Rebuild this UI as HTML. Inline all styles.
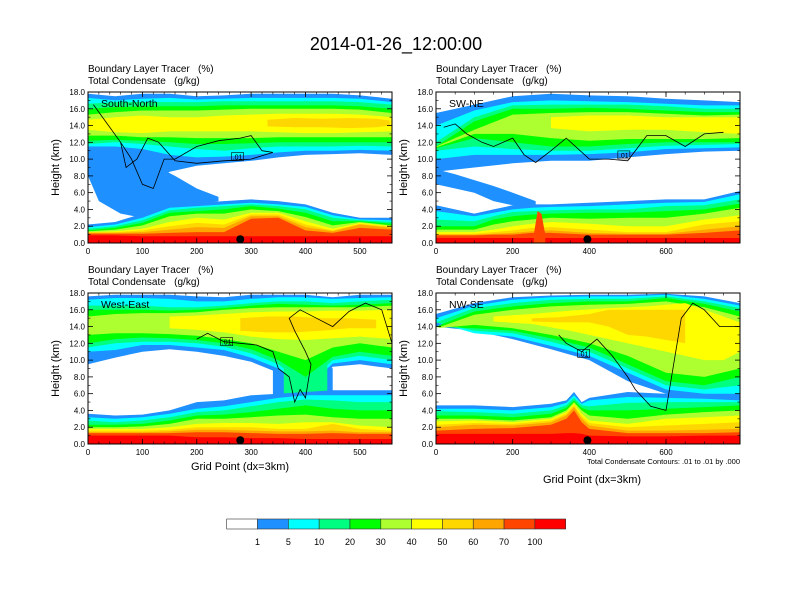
<!DOCTYPE html>
<html><head><meta charset="utf-8">
<style>
html,body{margin:0;padding:0;background:#fff;}
svg{display:block;font-family:"Liberation Sans",Arial,sans-serif;}
svg text{white-space:pre;}
</style></head>
<body>
<svg id="chart" width="792" height="612" viewBox="0 0 792 612" xmlns="http://www.w3.org/2000/svg">
<rect width="792" height="612" fill="#fff"/>
<text x="396" y="50" font-size="18" text-anchor="middle">2014-01-26_12:00:00</text>
<g id="panels"></g>
<g id="colorbar"></g>
</svg>
<script>
const NS="http://www.w3.org/2000/svg";
const colors=["#ffffff","#1e90ff","#00ffff","#00ff80","#00ff00","#adff2f","#ffff00","#ffd700","#ffa500","#ff4500","#ff0000"];
const cbLabels=["1","5","10","20","30","40","50","60","70","100"];

// ---- Panel TL: South-North ----
const snX=[0,50,100,150,200,250,300,350,400,450,500,559];
const snUpTop1=[17.8,17.5,17.8,17.8,17.5,17.6,17.8,17.8,17.8,17.8,17.6,17.2];
const snUpBot1=[8.5,8.0,6.5,8.5,9.2,9.5,9.8,10.2,10.5,10.6,10.7,10.5];
const snUpTop2=[17.3,17.0,17.2,17.3,17.1,17.2,17.3,17.3,17.3,17.3,17.2,16.8];
const snUpBot2=[11.5,11.5,11.2,10.5,10.2,10.3,10.5,10.8,11.0,11.0,11.1,11.0];
const snUpTop3=[16.6,16.8,16.8,16.8,16.8,16.9,16.9,16.9,16.9,16.9,16.8,16.5];
const snUpBot3=[11.8,12.0,11.8,11.5,11.2,11.0,11.3,11.5,11.5,11.5,11.6,11.5];
const snUpTop4=[16.0,16.2,16.3,16.3,16.3,16.4,16.4,16.4,16.4,16.4,16.3,16.0];
const snUpBot4=[12.2,12.3,12.2,12.0,11.8,11.8,11.9,12.0,12.0,12.0,12.0,12.0];
const snUpTop5=[15.3,15.6,15.8,15.8,15.8,15.9,16.0,16.0,16.0,16.0,15.9,15.5];
const snUpBot5=[12.8,12.8,12.6,12.6,12.5,12.5,12.5,12.6,12.6,12.6,12.6,12.6];
const snUpTop6=[14.7,15.0,15.2,15.0,15.0,15.2,15.3,15.4,15.4,15.4,15.3,15.0];
const snUpBot6=[13.5,13.2,13.1,13.3,13.3,13.3,13.3,13.2,13.1,13.1,13.2,13.3];
const snCoreX=[330,380,430,480,530,555];
const snCoreTop=[14.7,14.9,14.8,14.9,14.8,14.6];
const snCoreBot=[13.9,13.8,13.8,13.7,13.8,14.0];
const snWedgeX=[0,20,60,100,130,160,200,240];
const snWedgeTop=[10,10,10,10,9,8,6.5,5.5];
const snWedgeBot=[8,5,3.5,3,3.5,4,4.5,5];
const snLow=[
 [2.2,2.5,3.5,4.6,4.8,5.0,5.2,5.0,4.6,3.6,3.0,3.0],
 [1.9,2.2,3.0,4.2,4.4,4.6,4.8,4.6,4.3,3.3,2.8,2.7],
 [1.7,2.0,2.7,3.9,4.2,4.4,4.6,4.4,4.0,3.0,2.7,2.5],
 [1.5,1.8,2.4,3.6,3.8,4.0,4.4,4.1,3.6,2.6,2.6,2.3],
 [1.4,1.6,2.1,3.2,3.5,3.5,4.0,3.8,3.1,2.1,2.5,2.1],
 [1.3,1.4,1.7,2.5,3.0,2.8,3.6,3.6,2.6,1.7,2.4,2.0],
 [1.3,1.3,1.5,2.0,2.4,2.2,3.4,3.4,2.2,1.5,2.3,1.9],
 [1.2,1.2,1.3,1.6,1.9,1.8,3.2,3.2,1.9,1.4,2.2,1.8],
 [1.1,1.1,1.1,1.2,1.3,1.3,2.9,3.0,1.5,1.2,1.8,1.6],
 [0.9,0.9,0.8,0.8,0.8,0.8,0.8,0.8,0.8,0.8,0.8,0.8]];
const snContX=[10,60,80,100,120,140,160,200,240,280,300,320,340,300,250,200,160,130,110,90,70,60];
const snContY=[16.5,12,10,7,6.5,10,10,11.5,12.2,12.5,12.8,11,10.8,10,9.8,9.5,9.8,12,12.5,10,9,12];

// ---- Panel TR: SW-NE ----
const swX=[0,100,200,300,400,500,600,700,793];
const swUpTop1=[15.5,16.5,17.5,17.8,17.6,17.5,17.2,17.0,16.8];
const swUpBot1=[8.5,9.0,9.5,9.8,9.8,10.2,10.6,10.9,11.0];
const swUpTop2=[14,15.8,16.8,17.0,16.9,16.8,16.6,16.4,16.4];
const swUpBot2=[10,10.5,10.5,10.5,10.6,10.8,11.2,11.3,11.4];
const swUpTop3=[12,15.0,16.4,16.5,16.5,16.5,16.3,16.0,16.0];
const swUpBot3=[11,11.5,11.2,11.0,11.0,11.3,11.6,11.7,11.8];
const swUpTop4=[11.5,14.5,16.0,16.0,16.1,16.0,15.8,15.6,15.6];
const swUpBot4=[11.3,12.5,12.0,11.5,11.5,11.8,12.0,12.0,12.0];
const swUpTop5=[11.5,13.5,15.3,15.5,15.6,15.6,15.4,15.2,15.3];
const swUpBot5=[11.4,13.0,13.0,12.5,12.2,12.4,12.4,12.4,12.5];
const swCoreX=[300,400,500,600,700,793];
const swCoreTop=[15.0,15.2,15.2,15.0,15.0,15.0];
const swCoreBot=[13.7,13.3,13.5,13.5,13.2,13.0];
const swStripX=[0,50,100,150,200,260];
const swStripTop=[8.8,8.2,7.5,6.8,6.0,5.0];
const swStripBot=[7.0,6.5,6.0,5.0,4.5,4.2];
const swLowX=[0,100,150,200,250,300,400,500,600,700,793];
const swLow=[
 [4.5,3.5,4.0,4.5,4.6,4.6,4.8,5.0,5.2,5.2,6.2],
 [3.8,3.2,3.6,4.0,4.2,4.3,4.4,4.6,4.8,4.9,5.8],
 [2.8,2.6,3.2,3.7,3.8,3.9,4.0,4.0,4.4,4.5,5.2],
 [2.0,2.0,2.8,3.2,3.4,3.5,3.6,3.6,3.8,4.0,4.7],
 [1.6,1.6,2.2,2.6,2.8,3.0,2.9,3.0,3.0,3.5,4.2],
 [1.3,1.3,1.6,2.0,2.3,2.5,2.3,2.0,2.0,2.8,3.3],
 [1.1,1.1,1.3,1.5,1.8,1.9,1.6,1.3,1.3,2.2,2.6],
 [1.0,1.0,1.1,1.2,1.4,1.5,1.2,1.1,1.1,1.6,2.0],
 [0.9,0.9,1.0,1.0,1.2,1.2,1.0,1.0,1.0,1.2,1.5],
 [0.6,0.6,0.6,0.6,0.6,0.6,0.6,0.6,0.6,0.6,0.6]];
const swSpikeX=[255,265,275,285];
const swSpikeTop=[1,3.8,3.5,1];
const swContX=[20,50,80,120,150,200,230,260,300,340,400,450,500,550,600,650,700,750];
const swContY=[13.8,14.2,13,12,11.5,12.5,10.5,9.6,11,12.5,10,10,9.8,12.8,12.8,11.5,13,13.2];

// ---- Panel BL: West-East ----
const weX=[0,50,100,150,200,250,300,350,400,450,500,559];
const weUpTop1=[17.6,17.8,17.8,17.8,17.6,17.5,17.8,17.8,17.8,17.5,17.8,17.8];
const weUpBot1=[9.5,10.3,11.0,11.3,11.0,10.5,9.8,8.5,6.0,9.2,9.5,9.0];
const weUpTop2=[17.2,17.4,17.4,17.3,17.0,17.0,17.3,17.5,17.5,17.3,17.4,17.5];
const weUpBot2=[11,11.2,11.8,11.8,11.5,11.2,10.3,9.0,6.5,9.6,10,9.5];
const weUpTop3=[16.5,16.5,16.5,16.3,16.3,16.5,16.8,17.0,17.0,16.8,17.0,17.2];
const weUpBot3=[11.5,12,12.2,12.2,12,11.6,10.8,9.5,7,10,10.5,10];
const weUpTop4=[16,16,16,15.9,16,16.2,16.5,16.7,16.6,16.5,16.6,16.8];
const weUpBot4=[12,12.5,12.7,12.6,12.4,12,11.3,10,8,10.4,11,10.5];
const weUpTop5=[15.2,15.5,15.6,15.6,15.7,16,16.2,16.3,16.3,16.3,16.3,16.5];
const weUpBot5=[13,13.2,13.2,13.1,12.9,12.5,12,11,10,11.5,12,11.5];
const weCoreX=[150,200,250,300,350,400,450,500,559];
const weCoreTop=[15.2,15.3,15.5,15.7,15.8,15.8,15.9,15.9,16];
const weCoreBot=[13.8,13.6,13.3,12.8,12.5,12.4,12.6,12.8,12.5];
const weCore7X=[280,330,380,430,480,530];
const weCore7Top=[15,15.2,15.2,15.0,15,14.8];
const weCore7Bot=[13.5,13.3,13.3,13.5,13.8,13.8];
const weColX=[340,360,400,430,450];
const weColTop=[10,10,10,10,9];
const weColBot=[5,3,3,3,5];
const weCol3X=[360,380,400,420,440];
const weCol3Top=[10,10,10,10,10];
const weCol3Bot=[5,4,4,4,5];
const weLow=[
 [3.6,3.4,3.5,4.0,5.0,5.2,5.8,6.0,6.2,6.4,6.4,6.4],
 [3.2,3.0,3.2,3.6,4.2,4.5,5.0,5.5,5.8,5.8,5.8,5.8],
 [2.8,2.6,2.8,3.2,3.8,4.0,4.5,5.0,5.3,5.2,5.0,5.0],
 [2.3,2.3,2.4,2.8,3.4,3.5,3.8,4.2,4.6,4.2,4.0,4.0],
 [2.0,2.0,2.1,2.4,3.0,3.0,3.2,3.4,3.5,3.2,3.0,3.0],
 [1.8,1.8,1.8,2.0,2.4,2.5,2.5,2.4,2.6,2.6,2.2,2.0],
 [1.6,1.6,1.6,1.7,2.0,2.0,2.0,1.8,1.8,2.4,1.8,1.6],
 [1.4,1.4,1.4,1.5,1.7,1.7,1.6,1.5,1.5,1.6,1.4,1.4],
 [1.3,1.3,1.3,1.3,1.4,1.4,1.3,1.2,1.2,1.3,1.2,1.2],
 [1.0,1.0,1.0,1.0,0.8,0.8,0.7,0.7,0.6,0.6,0.6,0.6]];
const weContX=[200,220,250,280,310,340,350,370,380,390,400,410,400,380,370,390,420,450,480,510,540,559];
const weContY=[12.5,13.2,12.2,12.0,11.8,11.0,9.0,8.0,5.0,6.5,5.5,9.5,11,13.5,15,16,15,14,15.8,16.8,16,12];

// ---- Panel BR: NW-SE ----
const nwX=[0,100,200,300,400,500,600,700,793];
const nwUpTop1=[15.5,16.8,17.5,17.7,17.8,17.8,17.9,17.6,16.8];
const nwUpBot1=[14,13.5,12.5,11.3,10.0,7.5,6.0,5.0,5.0];
const nwUpTop2=[15,16.5,17.2,17.5,17.6,17.6,17.8,17.3,16.5];
const nwUpBot2=[14.5,13.2,12.8,11.7,10.5,8.5,6.5,6,6];
const nwUpTop3=[14.5,16.2,16.8,17.2,17.3,17.3,17.6,17.0,16.2];
const nwUpBot3=[14.5,13.5,13.2,12.2,11.0,9.0,7.0,6.5,7];
const nwUpTop4=[14.0,15.8,16.4,16.8,17.0,17.0,17.4,16.7,15.8];
const nwUpBot4=[14.0,13.8,13.5,12.6,11.5,9.5,7.5,7.0,8.0];
const nwUpTop5=[13.8,15.4,16.0,16.4,16.6,16.7,17.0,16.3,15.2];
const nwUpBot5=[13.8,14.2,13.8,13.0,12.0,10.5,8.5,8.0,9.0];
const nwCoreX=[150,250,350,450,550,650,700,750,793];
const nwCoreTop=[15.2,15.5,15.9,16.2,16.4,16.8,16.0,15.2,14.5];
const nwCoreBot=[14.6,14.3,13.5,12.5,11.5,10.5,10.0,10.0,11];
const nwCore7X=[250,320,400,450,500,550,650];
const nwCore7Top=[15.0,15.1,15.5,16,16,16,16];
const nwCore7Bot=[14.6,14.5,14.5,14,13,12.8,12];
const nwLowX=[0,100,200,300,340,360,380,400,500,600,700,793];
const nwLow=[
 [4.6,4.6,4.4,4.8,5.2,6.2,5.0,5.5,6.2,6.0,5.8,5.5],
 [4.2,4.2,4.0,4.4,4.9,5.8,4.8,5.2,5.6,5.5,5.4,5.2],
 [3.9,3.8,3.6,4.0,4.6,5.5,4.6,4.5,4.9,5.0,5.0,5.0],
 [3.4,3.4,3.2,3.6,4.3,5.2,4.3,4.0,4.0,4.2,4.4,4.6],
 [3.0,3.0,2.8,3.2,4.0,5.0,4.0,3.4,3.0,3.5,3.8,4.0],
 [2.7,2.8,2.6,3.0,3.8,4.8,3.6,2.8,2.4,3.0,3.2,3.4],
 [2.3,2.5,2.4,2.8,3.6,4.6,3.3,2.5,2.0,2.2,2.4,2.6],
 [2.0,2.3,2.2,2.6,3.4,4.4,3.0,2.2,1.6,1.6,1.7,1.8],
 [1.6,1.8,1.9,2.3,3.0,4.0,2.6,1.8,1.3,1.3,1.3,1.4],
 [1.2,1.2,1.2,1.2,1.3,1.3,1.2,1.0,0.9,0.9,1.0,1.0]];
const nwContX=[320,340,380,420,460,500,520,560,600,640,670,700,740,780,793];
const nwContY=[13,12,11,12.5,10.5,8,6.5,4.5,4,15,16.8,16,14,14,14];

const dotGrid=[280,395,280,395];

function el(tag,attrs,parent){const e=document.createElementNS(NS,tag);for(const k in attrs)e.setAttribute(k,attrs[k]);parent.appendChild(e);return e;}

const panels=[
 {name:"south-north",label:"South-North",x0:88,y0:92,w:304,h:151,xmax:559,xt:[0,100,200,300,400,500],xminor:20,
  bands:[[1,snX,snUpTop1,snUpBot1],[1,snWedgeX,snWedgeTop,snWedgeBot],[2,snX,snUpTop2,snUpBot2],[3,snX,snUpTop3,snUpBot3],[4,snX,snUpTop4,snUpBot4],[5,snX,snUpTop5,snUpBot5],[6,snX,snUpTop6,snUpBot6],[7,snCoreX,snCoreTop,snCoreBot]],
  lowX:snX,low:snLow,extra:[],contX:snContX,contY:snContY,box:[275,10.3]},
 {name:"sw-ne",label:"SW-NE",x0:436,y0:92,w:304,h:151,xmax:793,xt:[0,200,400,600],xminor:50,
  bands:[[1,swX,swUpTop1,swUpBot1],[1,swStripX,swStripTop,swStripBot],[2,swX,swUpTop2,swUpBot2],[3,swX,swUpTop3,swUpBot3],[4,swX,swUpTop4,swUpBot4],[5,swX,swUpTop5,swUpBot5],[6,swCoreX,swCoreTop,swCoreBot]],
  lowX:swLowX,low:swLow,extra:[[9,swSpikeX,swSpikeTop,null]],contX:swContX,contY:swContY,box:[490,10.5]},
 {name:"west-east",label:"West-East",x0:88,y0:293,w:304,h:151,xmax:559,xt:[0,100,200,300,400,500],xminor:20,
  bands:[[1,weX,weUpTop1,weUpBot1],[1,weColX,weColTop,weColBot],[2,weX,weUpTop2,weUpBot2],[3,weX,weUpTop3,weUpBot3],[3,weCol3X,weCol3Top,weCol3Bot],[4,weX,weUpTop4,weUpBot4],[5,weX,weUpTop5,weUpBot5],[6,weCoreX,weCoreTop,weCoreBot],[7,weCore7X,weCore7Top,weCore7Bot]],
  lowX:weX,low:weLow,extra:[],contX:weContX,contY:weContY,box:[255,12.2]},
 {name:"nw-se",label:"NW-SE",x0:436,y0:293,w:304,h:151,xmax:793,xt:[0,200,400,600],xminor:50,
  bands:[[1,nwX,nwUpTop1,nwUpBot1],[2,nwX,nwUpTop2,nwUpBot2],[3,nwX,nwUpTop3,nwUpBot3],[4,nwX,nwUpTop4,nwUpBot4],[5,nwX,nwUpTop5,nwUpBot5],[6,nwCoreX,nwCoreTop,nwCoreBot],[7,nwCore7X,nwCore7Top,nwCore7Bot]],
  lowX:nwLowX,low:nwLow,extra:[],contX:nwContX,contY:nwContY,box:[385,10.8]}
];

const root=document.getElementById('panels');
panels.forEach((p,pi)=>{
 const g=el('g',{},root);
 
 
 const sx=v=>p.x0+v/p.xmax*p.w;
 const sy=v=>p.y0+p.h-v/18*p.h;
 const clipId='clip'+pi;
 const cp=el('clipPath',{id:clipId},g);
 el('rect',{x:p.x0,y:p.y0,width:p.w,height:p.h},cp);
 const fg=el('g',{'clip-path':'url(#'+clipId+')'},g);
 const drawBand=(lvl,xs,top,bot,name)=>{
  let d='';
  xs.forEach((x,i)=>{d+=(i?'L':'M')+sx(x).toFixed(1)+','+sy(top[i]).toFixed(1);});
  for(let i=xs.length-1;i>=0;i--){d+='L'+sx(xs[i]).toFixed(1)+','+sy(bot?bot[i]:0).toFixed(1);}
  const path=el('path',{d:d+'Z',fill:colors[lvl]},fg);
  
  
 };
 p.bands.forEach(b=>drawBand(b[0],b[1],b[2],b[3],'upper-cloud-level-'+b[0]));
 p.low.forEach((top,i)=>drawBand(i+1,p.lowX,top,null,'boundary-layer-level-'+(i+1)));
 p.extra.forEach(b=>drawBand(b[0],b[1],b[2],b[3],'tracer-spike'));
 let cd='';
 p.contX.forEach((x,i)=>{cd+=(i?'L':'M')+sx(x).toFixed(1)+','+sy(p.contY[i]).toFixed(1);});
 const cl=el('path',{d:cd,fill:'none',stroke:'#000','stroke-width':0.8},fg);
 
 
 const bx=sx(p.box[0]),by=sy(p.box[1]);
 const lb=el('g',{},fg);
 
 
 el('rect',{x:bx-6,y:by-4,width:12,height:8,fill:'none',stroke:'#000','stroke-width':0.6},lb);
 const lt=el('text',{x:bx,y:by+3,'font-size':7,'text-anchor':'middle'},lb);lt.textContent='.01';
 const dot=el('circle',{cx:sx(dotGrid[pi]),cy:sy(0.45),r:4,fill:'#000'},g);
 
 
 el('rect',{x:p.x0,y:p.y0,width:p.w,height:p.h,fill:'none',stroke:'#000','stroke-width':1},g);
 for(let v=0;v<=18;v+=2){
  const y=sy(v);
  el('line',{x1:p.x0,y1:y,x2:p.x0+5,y2:y,stroke:'#000','stroke-width':0.8},g);
  el('line',{x1:p.x0+p.w,y1:y,x2:p.x0+p.w-5,y2:y,stroke:'#000','stroke-width':0.8},g);
  const t=el('text',{x:p.x0-3,y:y+3,'font-size':8,'text-anchor':'end'},g);
  
  
  t.textContent=v.toFixed(1);
 }
 for(let v=1;v<18;v+=2){const y=sy(v);
  el('line',{x1:p.x0,y1:y,x2:p.x0+2.5,y2:y,stroke:'#000','stroke-width':0.6},g);
  el('line',{x1:p.x0+p.w,y1:y,x2:p.x0+p.w-2.5,y2:y,stroke:'#000','stroke-width':0.6},g);}
 for(let v=0;v<=p.xmax;v+=p.xminor){const x=sx(v);
  el('line',{x1:x,y1:p.y0+p.h,x2:x,y2:p.y0+p.h-2.5,stroke:'#000','stroke-width':0.6},g);
  el('line',{x1:x,y1:p.y0,x2:x,y2:p.y0+2.5,stroke:'#000','stroke-width':0.6},g);}
 p.xt.forEach(v=>{const x=sx(v);
  el('line',{x1:x,y1:p.y0+p.h,x2:x,y2:p.y0+p.h-5,stroke:'#000','stroke-width':0.8},g);
  el('line',{x1:x,y1:p.y0,x2:x,y2:p.y0+5,stroke:'#000','stroke-width':0.8},g);
  const t=el('text',{x:x,y:p.y0+p.h+11,'font-size':8,'text-anchor':'middle'},g);
  
  
  t.textContent=String(v);
 });
 const s1=el('text',{x:p.x0,y:p.y0-20,'font-size':10},g);s1.textContent='Boundary Layer Tracer   (%)';
 
 
 const s2=el('text',{x:p.x0,y:p.y0-8,'font-size':10},g);s2.textContent='Total Condensate   (g/kg)';
 
 
 const lab=el('text',{x:p.x0+13,y:p.y0+15,'font-size':10.5},g);lab.textContent=p.label;
 
 
 const yt=el('text',{x:0,y:0,'font-size':11,'text-anchor':'middle',transform:'translate('+(p.x0-29)+','+(p.y0+p.h/2)+') rotate(-90)'},g);
 yt.textContent='Height (km)';
 
 
});
const xt1=el('text',{x:240,y:470,'font-size':11,'text-anchor':'middle'},root);xt1.textContent='Grid Point (dx=3km)';


const xt2=el('text',{x:592,y:483,'font-size':11,'text-anchor':'middle'},root);xt2.textContent='Grid Point (dx=3km)';


const note=el('text',{x:740,y:464,'font-size':7.5,'text-anchor':'end'},root);note.textContent='Total Condensate Contours: .01 to .01 by .000';


const cb=document.getElementById('colorbar');
const cbx=226.7,cbw=(565.7-226.7)/colors.length;
colors.forEach((c,i)=>{
 const r=el('rect',{x:cbx+i*cbw,y:519,width:cbw,height:10,fill:c,stroke:'#333','stroke-width':0.6},cb);
 
 
});
cbLabels.forEach((l,i)=>{
 const t=el('text',{x:cbx+(i+1)*cbw,y:545,'font-size':9,'text-anchor':'middle'},cb);
 
 
 t.textContent=l;
});
</script>
</body></html>
